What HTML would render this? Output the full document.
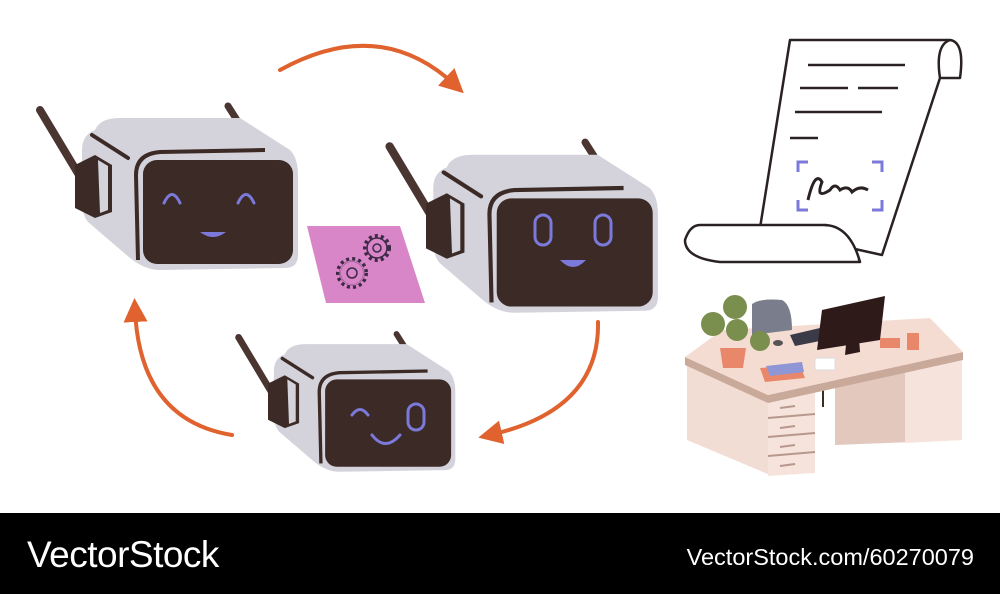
<!DOCTYPE html>
<html><head><meta charset="utf-8"><style>
html,body{margin:0;padding:0;background:#fff;}
#w{position:relative;width:1000px;height:594px;overflow:hidden;background:#fff;font-family:"Liberation Sans",sans-serif;}
#f{position:absolute;left:0;top:513px;width:1000px;height:81px;background:#000;}
#l{position:absolute;left:27px;top:534px;color:#fff;font-size:37px;letter-spacing:-0.5px;}
#r{position:absolute;right:26px;top:544px;color:#fff;font-size:23.5px;}
</style></head><body><div id="w">
<svg width="1000" height="513" viewBox="0 0 1000 513" style="position:absolute;left:0;top:0">
<defs>
<g id="rb">
<line x1="228" y1="106" x2="242" y2="128" stroke="#4a3530" stroke-width="7" stroke-linecap="round"/>
<path d="M95,130 Q100,118 120,118 L240,118 L290,150 Q298,158 298,175 L298,255 Q298,268 285,268 L160,270 Q145,270 130,258 L88,222 Q82,215 82,200 L82,150 Q82,135 95,130Z" fill="#d4d3dc"/>
<line x1="92" y1="135" x2="128" y2="158" stroke="#3c2a26" stroke-width="4" stroke-linecap="round"/>
<path d="M138,260 L136,175 Q136,154 160,152 L265,150" fill="none" stroke="#3c2a26" stroke-width="4"/>
<rect x="143" y="160" width="150" height="104" rx="14" fill="#3c2a26"/>
<line x1="40" y1="110" x2="88" y2="190" stroke="#4a3530" stroke-width="8" stroke-linecap="round"/>
<path d="M75,165 L95,155 L112,165 L112,212 L95,218 L75,208Z" fill="#3c2a26"/>
<path d="M98,160 L108,166 L108,210 L100,213Z" fill="#d4d3dc"/>
</g>
<marker id="ah" markerWidth="6" markerHeight="6" refX="3" refY="3" orient="auto" markerUnits="strokeWidth"><path d="M0,0 L6,3 L0,6Z" fill="#e0622e"/></marker>
</defs>
<g fill="none" stroke="#e0622e" stroke-width="4" stroke-linecap="round">
<path d="M280,70 Q380,15 455,85" marker-end="url(#ah)"/>
<path d="M598,322 Q600,410 490,435" marker-end="url(#ah)"/>
<path d="M232,435 Q140,420 135,310" marker-end="url(#ah)"/>
</g>
<use href="#rb"/>
<g fill="none" stroke="#7b79d9" stroke-width="3" stroke-linecap="round">
<path d="M164,203 Q172,186 180,203"/><path d="M238,203 Q246,186 254,203"/>
</g>
<path d="M200,232 Q213,242 226,232 Z" fill="#7b79d9"/>
<g transform="translate(348,32) scale(1.04)"><use href="#rb"/></g>
<g fill="none" stroke="#7b79d9" stroke-width="3">
<rect x="535" y="215" width="16" height="30" rx="8"/><rect x="595" y="215" width="16" height="30" rx="8"/>
</g>
<path d="M560,260 Q573,274 586,260 Z" fill="#7b79d9"/>
<g transform="translate(205,245) scale(0.84)"><use href="#rb"/></g>
<g fill="none" stroke="#7b79d9" stroke-width="3" stroke-linecap="round">
<path d="M352,415 Q360,404 368,415"/><rect x="408" y="404" width="16" height="26" rx="8"/>
<path d="M372,435 Q385,452 400,435"/>
</g>
<path d="M307,226 L400,226 L425,303 L326,303Z" fill="#d886c7"/>
<g fill="none" stroke="#3c2a46" stroke-width="1.5">
<circle cx="352" cy="273" r="14" stroke-dasharray="3 3" stroke-width="4"/><circle cx="352" cy="273" r="12"/><circle cx="352" cy="273" r="5"/>
<circle cx="377" cy="248" r="12" stroke-dasharray="3 3" stroke-width="4"/><circle cx="377" cy="248" r="10"/><circle cx="377" cy="248" r="4"/>
</g>
<g fill="none" stroke="#3c2a46" stroke-width="1.5"><circle cx="352" cy="273" r="12" stroke="#d886c7" stroke-width="1"/></g>
<g fill="#fff" stroke="#2a2222" stroke-width="2.5" stroke-linejoin="round">
<path d="M790,40 L950,40 Q965,42 960,78 L940,78 L882,255 L760,228 Z"/>
<path d="M950,40 Q935,45 940,78"/>
<path d="M700,225 L825,225 Q845,228 860,262 L720,262 Q685,258 685,240 Q690,225 700,225Z"/>
<path d="M825,225 Q850,226 860,262"/>
</g>
<g stroke="#2a2222" stroke-width="2.5">
<line x1="808" y1="65" x2="905" y2="65"/><line x1="800" y1="88" x2="848" y2="88"/><line x1="858" y1="88" x2="898" y2="88"/>
<line x1="795" y1="112" x2="882" y2="112"/><line x1="790" y1="138" x2="818" y2="138"/>
</g>
<g fill="none" stroke="#7b79d9" stroke-width="3">
<path d="M798,172 V162 H808"/><path d="M872,162 H882 V172"/><path d="M798,200 V210 H808"/><path d="M872,210 H882 V200"/>
</g>
<path d="M808,200 Q815,170 822,182 Q815,200 830,190 Q835,182 840,190 Q848,185 852,192 Q860,185 868,190" fill="none" stroke="#2a2222" stroke-width="3"/>
<path d="M835,375 L962,352 L962,440 L835,445Z" fill="#e3c8bd"/>
<path d="M905,360 L962,352 L962,440 L905,443Z" fill="#f5e3dc"/>
<path d="M687,362 L770,398 L770,475 L687,440Z" fill="#f2ddd4"/>
<path d="M768,398 L815,390 L815,473 L768,476Z" fill="#f5e3dc"/>
<g stroke="#b8988c" stroke-width="2"><line x1="768" y1="418" x2="815" y2="414"/><line x1="768" y1="437" x2="815" y2="433"/><line x1="768" y1="456" x2="815" y2="452"/>
<line x1="780" y1="408" x2="795" y2="406"/><line x1="780" y1="428" x2="795" y2="426"/><line x1="780" y1="447" x2="795" y2="445"/><line x1="780" y1="466" x2="795" y2="464"/></g>
<line x1="823" y1="385" x2="823" y2="407" stroke="#3c2a26" stroke-width="2"/>
<path d="M685,357 L768,395 L963,352 L963,360 L768,403 L685,365Z" fill="#c9a99a"/>
<path d="M685,357 L722,330 L930,318 L963,352 L768,395Z" fill="#f5dcd3"/>
<path d="M752,304 Q760,298 782,300 Q792,305 792,330 L752,335Z" fill="#7a7e8c"/>
<path d="M790,335 L820,328 L825,340 L795,346Z" fill="#3a3a48"/>
<path d="M822,310 L885,296 L880,340 L817,350Z" fill="#2e1a18"/>
<path d="M848,325 L858,323 L860,352 L845,355Z" fill="#2e1a18"/>
<ellipse cx="778" cy="343" rx="5" ry="3" fill="#555"/>
<g fill="#7a8e4e"><circle cx="713" cy="324" r="12"/><circle cx="735" cy="307" r="12"/><circle cx="737" cy="330" r="11"/><circle cx="760" cy="341" r="10"/></g>
<path d="M720,348 L746,348 L743,368 L723,368Z" fill="#e9876a"/>
<path d="M760,368 L800,365 L805,378 L765,382Z" fill="#e9876a"/><path d="M766,366 L802,362 L804,372 L770,376Z" fill="#8f96d6"/>
<rect x="880" y="338" width="20" height="10" fill="#e9876a"/><rect x="907" y="333" width="12" height="17" fill="#e9876a"/>
<rect x="815" y="358" width="20" height="12" fill="#fff" stroke="#ddd"/>
</svg>
<div id="f"></div>
<div id="l">VectorStock</div>
<div id="r">VectorStock.com/60270079</div>
</div></body></html>
